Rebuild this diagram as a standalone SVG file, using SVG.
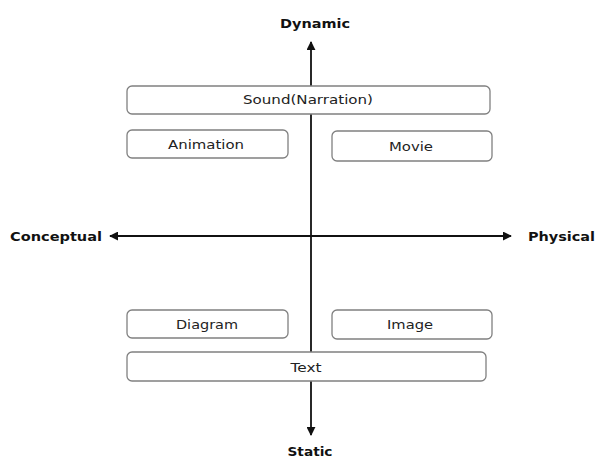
<svg xmlns="http://www.w3.org/2000/svg" width="596" height="459" viewBox="0 0 596 459">
<style>
.box{fill:#fff;stroke:#808080;stroke-width:1.3}
.t{font-family:"DejaVu Sans",Verdana,sans-serif;font-size:12px;fill:#222;text-anchor:middle}
.ax{font-family:"DejaVu Sans",Verdana,sans-serif;font-size:12px;font-weight:bold;fill:#111}
.axis{stroke:#111;stroke-width:1.8;fill:none}
</style>
<defs>
<marker id="ar" viewBox="0 0 10 10" refX="9" refY="5" markerWidth="5" markerHeight="5" orient="auto-start-reverse" markerUnits="strokeWidth">
<path d="M0,0 L10,5 L0,10 z" fill="#111"/>
</marker>
</defs>
<g id="connectors">
<line class="axis" x1="311" y1="435" x2="311" y2="42" marker-start="url(#ar)" marker-end="url(#ar)"/>
<line class="axis" x1="110" y1="236" x2="511" y2="236" marker-start="url(#ar)" marker-end="url(#ar)"/>
</g>
<g id="sound"><rect class="box" x="127" y="86" width="363" height="28" rx="5"/><text class="t" x="308" y="104" textLength="130" lengthAdjust="spacingAndGlyphs">Sound(Narration)</text></g>
<g id="animation"><rect class="box" x="127" y="130" width="161" height="28" rx="5"/><text class="t" x="206" y="149" textLength="76" lengthAdjust="spacingAndGlyphs">Animation</text></g>
<g id="movie"><rect class="box" x="332" y="131" width="160" height="30" rx="5"/><text class="t" x="411" y="151" textLength="44" lengthAdjust="spacingAndGlyphs">Movie</text></g>
<g id="diagram"><rect class="box" x="127" y="310" width="161" height="28" rx="5"/><text class="t" x="207" y="329" textLength="62" lengthAdjust="spacingAndGlyphs">Diagram</text></g>
<g id="image"><rect class="box" x="332" y="310" width="160" height="29" rx="5"/><text class="t" x="410" y="329" textLength="46" lengthAdjust="spacingAndGlyphs">Image</text></g>
<g id="text"><rect class="box" x="127" y="352" width="359" height="29" rx="5"/><text class="t" x="306" y="372" textLength="31" lengthAdjust="spacingAndGlyphs">Text</text></g>
<g id="labels">
<text class="ax" x="315" y="28" text-anchor="middle" textLength="70" lengthAdjust="spacingAndGlyphs">Dynamic</text>
<text class="ax" x="310" y="456" text-anchor="middle" textLength="45" lengthAdjust="spacingAndGlyphs">Static</text>
<text class="ax" x="10" y="241" textLength="92" lengthAdjust="spacingAndGlyphs">Conceptual</text>
<text class="ax" x="528" y="241" textLength="67" lengthAdjust="spacingAndGlyphs">Physical</text>
</g>
</svg>
